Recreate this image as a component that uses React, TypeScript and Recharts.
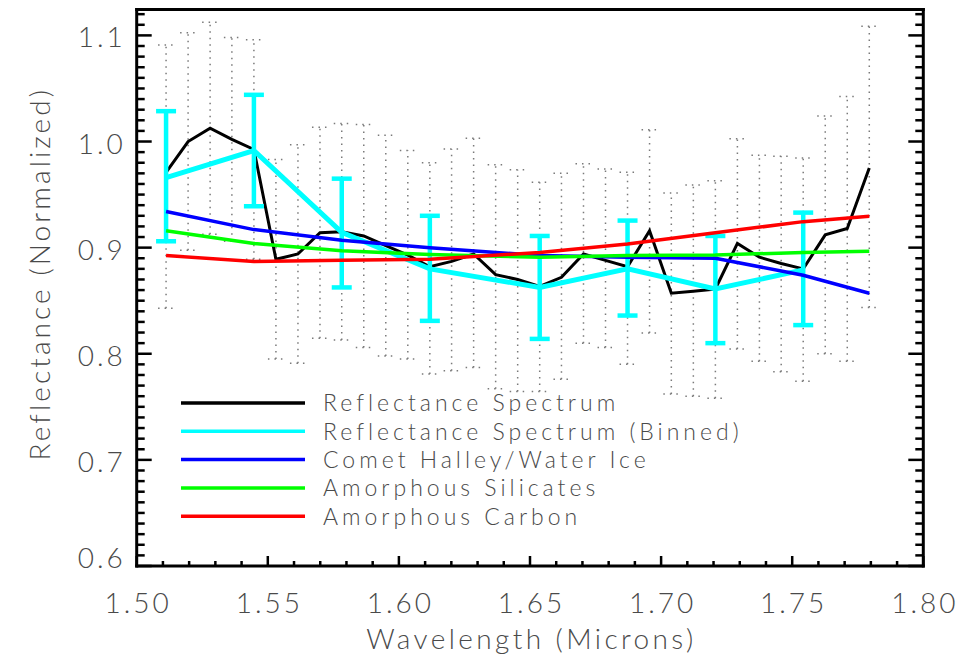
import React from 'react';
import { LineChart, Line, XAxis, YAxis, ErrorBar, Legend, Label } from 'recharts';

// wavelength grid of the full-resolution spectrum (microns)
const WAVELENGTHS = [
  1.5112, 1.5196, 1.528, 1.5363, 1.5447, 1.5531, 1.5615, 1.5699, 1.5782, 1.5866, 1.595,
  1.6034, 1.6118, 1.6201, 1.6285, 1.6369, 1.6453, 1.6537, 1.662, 1.6704, 1.6788, 1.6872,
  1.6956, 1.7039, 1.7123, 1.7207, 1.7291, 1.7375, 1.7458, 1.7542, 1.7626, 1.771, 1.7794,
];
const SPECTRUM = [
  0.971, 1.0, 1.0125, 1.002, 0.9925, 0.889, 0.894, 0.914, 0.915, 0.911, 0.902,
  0.893, 0.882, 0.887, 0.894, 0.8745, 0.87, 0.8635, 0.872, 0.894, 0.888, 0.882,
  0.916, 0.857, 0.859, 0.861, 0.904, 0.891, 0.885, 0.88, 0.912, 0.918, 0.975,
];
const SPECTRUM_HIGH = [
  1.091, 1.1025, 1.1125, 1.098, 1.096, 0.983, 0.997, 1.0135, 1.017, 1.016, 1.006,
  0.9915, 0.98, 0.993, 1.003, 0.978, 0.9735, 0.9615, 0.97, 0.979, 0.974, 0.971,
  1.011, 0.9515, 0.959, 0.963, 1.0025, 0.987, 0.986, 0.9845, 1.024, 1.0425, 1.1085,
];
const SPECTRUM_LOW = [
  0.843, 0.8975, 0.9125, 0.906, 0.889, 0.795, 0.791, 0.8145, 0.813, 0.806, 0.798,
  0.795, 0.781, 0.784, 0.787, 0.767, 0.7645, 0.7645, 0.776, 0.81, 0.806, 0.79,
  0.8195, 0.762, 0.76, 0.758, 0.8045, 0.793, 0.783, 0.774, 0.8, 0.793, 0.8437,
];

// binned spectrum (indices into WAVELENGTHS)
const BIN_INDEX = [0, 4, 8, 12, 17, 21, 25, 29];
const BINNED = [0.966, 0.9915, 0.9145, 0.88, 0.8625, 0.88, 0.861, 0.879];
const BINNED_HIGH = [1.0286, 1.044, 0.965, 0.93, 0.911, 0.9255, 0.911, 0.933];
const BINNED_LOW = [0.906, 0.939, 0.8625, 0.831, 0.814, 0.836, 0.81, 0.827];

// model fits
const MODEL_INDEX = [0, 4, 8, 12, 17, 21, 25, 29, 32];
const HALLEY = [0.934, 0.917, 0.907, 0.9, 0.8925, 0.891, 0.89, 0.874, 0.857];
const SILICATES = [0.916, 0.904, 0.897, 0.8935, 0.891, 0.8925, 0.893, 0.8955, 0.8965];
const CARBON = [0.8925, 0.887, 0.888, 0.889, 0.8955, 0.9035, 0.914, 0.9245, 0.9295];

const SERIES_NAMES = [
  'Reflectance Spectrum',
  'Reflectance Spectrum (Binned)',
  'Comet Halley/Water Ice',
  'Amorphous Silicates',
  'Amorphous Carbon',
];

const X_LABELS = ['1.50', '1.55', '1.60', '1.65', '1.70', '1.75', '1.80'];
const Y_LABELS = ['0.6', '0.7', '0.8', '0.9', '1.0', '1.1'];
const X_TITLE = 'Wavelength (Microns)';
const Y_TITLE = 'Reflectance (Normalized)';

// minor ticks every 0.01
const X_TICKS = Array.from({ length: 31 }, (_, i) => Math.round(150 + i) / 100);
const Y_TICKS = Array.from({ length: 53 }, (_, i) => Math.round(60 + i) / 100);

const spectrumRows = WAVELENGTHS.map((w, i) => ({
  w,
  v: SPECTRUM[i],
  err: [SPECTRUM[i] - SPECTRUM_LOW[i], SPECTRUM_HIGH[i] - SPECTRUM[i]],
}));
const binnedRows = BIN_INDEX.map((k, i) => ({
  w: WAVELENGTHS[k],
  v: BINNED[i],
  err: [BINNED[i] - BINNED_LOW[i], BINNED_HIGH[i] - BINNED[i]],
}));
const modelRows = (vals: number[]) => MODEL_INDEX.map((k, i) => ({ w: WAVELENGTHS[k], v: vals[i] }));

const FONT = 'Lato, "Open Sans", sans-serif';
const TXT = '#4a4a4a';

const findLabel = (labels: string[], v: number) => labels.find((l) => Math.abs(parseFloat(l) - v) < 1e-6);

const BottomTick = ({ x, y, payload }: any) => {
  const label = findLabel(X_LABELS, payload.value);
  return (
    <g>
      <line x1={x} y1={y} x2={x} y2={y - (label ? 10 : 5)} stroke="#000" strokeWidth={2.5} />
      {label && (
        <text x={x + 1.5} y={y + 47} textAnchor="middle" fontFamily={FONT} fontWeight={300} fontSize={28} letterSpacing={3} fill={TXT}>
          {label}
        </text>
      )}
    </g>
  );
};

const TopTick = ({ x, y, payload }: any) => {
  const label = findLabel(X_LABELS, payload.value);
  return <line x1={x} y1={y} x2={x} y2={y + (label ? 10 : 5)} stroke="#000" strokeWidth={2.5} />;
};

const LeftTick = ({ x, y, payload, index }: any) => {
  const label = findLabel(Y_LABELS, payload.value);
  return (
    <g>
      <line x1={x} y1={y} x2={x + (label ? 15 : 8)} y2={y} stroke="#000" strokeWidth={2.5} />
      {label && (
        <text x={x - 11} y={y + (index === 0 ? 2 : 12)} textAnchor="end" fontFamily={FONT} fontWeight={300} fontSize={28} letterSpacing={3} fill={TXT}>
          {label}
        </text>
      )}
    </g>
  );
};

const RightTick = ({ x, y, payload }: any) => {
  const label = findLabel(Y_LABELS, payload.value);
  return <line x1={x} y1={y} x2={x - (label ? 15 : 8)} y2={y} stroke="#000" strokeWidth={2.5} />;
};

const LegendBox = ({ payload }: any) => {
  const items = [...(payload || [])].sort(
    (a: any, b: any) => SERIES_NAMES.indexOf(a.value) - SERIES_NAMES.indexOf(b.value),
  );
  return (
    <svg width={560} height={145}>
      {items.map((item: any, i: number) => (
        <g key={item.value}>
          <line x1={0} x2={124} y1={13 + i * 28.3} y2={13 + i * 28.3} stroke={item.color} strokeWidth={3.5} />
          <text x={142} y={21.3 + i * 28.3} fontFamily={FONT} fontWeight={300} fontSize={23} letterSpacing={4} fill={TXT}>
            {item.value}
          </text>
        </g>
      ))}
    </svg>
  );
};

const axisLine = { stroke: '#000', strokeWidth: 3, strokeLinecap: 'square' as const };

export default function App() {
  return (
    <div style={{ position: 'absolute', left: 0, top: 0, background: '#fff' }}>
      <LineChart width={957} height={662} margin={{ top: 0, right: 0, bottom: 0, left: 0 }}>
        <XAxis
          dataKey="w"
          type="number"
          domain={[1.5, 1.8]}
          allowDataOverflow
          ticks={X_TICKS}
          interval={0}
          height={96}
          tickSize={0}
          tickMargin={0}
          tickLine={false}
          axisLine={axisLine}
          tick={(p: any) => <BottomTick {...p} />}
        >
          <Label
            content={(p: any) => (
              <text
                x={p.viewBox.x + p.viewBox.width / 2 + 1.5}
                y={p.viewBox.y + 83}
                textAnchor="middle"
                fontFamily={FONT}
                fontWeight={300}
                fontSize={28}
                letterSpacing={3.4}
                fill={TXT}
              >
                {X_TITLE}
              </text>
            )}
          />
        </XAxis>
        <XAxis
          xAxisId="top"
          orientation="top"
          type="number"
          domain={[1.5, 1.8]}
          allowDataOverflow
          ticks={X_TICKS}
          interval={0}
          height={9.5}
          tickSize={0}
          tickMargin={0}
          tickLine={false}
          axisLine={axisLine}
          tick={(p: any) => <TopTick {...p} />}
        />
        <YAxis
          type="number"
          domain={[0.6, 1.1244]}
          allowDataOverflow
          ticks={Y_TICKS}
          interval={0}
          width={136.7}
          tickSize={0}
          tickMargin={0}
          tickLine={false}
          axisLine={axisLine}
          tick={(p: any) => <LeftTick {...p} />}
        >
          <Label
            content={(p: any) => {
              const cx = p.viewBox.x + 50;
              const cy = p.viewBox.y + p.viewBox.height / 2 - 14;
              return (
                <text
                  x={cx}
                  y={cy}
                  transform={`rotate(-90, ${cx}, ${cy})`}
                  textAnchor="middle"
                  fontFamily={FONT}
                  fontWeight={300}
                  fontSize={28}
                  letterSpacing={3.1}
                  fill={TXT}
                >
                  {Y_TITLE}
                </text>
              );
            }}
          />
        </YAxis>
        <YAxis
          yAxisId="right"
          orientation="right"
          type="number"
          domain={[0.6, 1.1244]}
          allowDataOverflow
          ticks={Y_TICKS}
          interval={0}
          width={33.7}
          tickSize={0}
          tickMargin={0}
          tickLine={false}
          axisLine={axisLine}
          tick={(p: any) => <RightTick {...p} />}
        />

        <Line
          data={spectrumRows}
          dataKey="v"
          name={SERIES_NAMES[0]}
          stroke="#000000"
          strokeWidth={3}
          dot={false}
          activeDot={false}
          strokeLinejoin="miter"
          isAnimationActive={false}
        >
          <ErrorBar dataKey="err" direction="y" width={8} stroke="#7a7a7a" strokeWidth={1.5} strokeDasharray="1.5 5" isAnimationActive={false} />
        </Line>
        <Line
          data={binnedRows}
          dataKey="v"
          name={SERIES_NAMES[1]}
          stroke="#00ffff"
          strokeWidth={5}
          dot={false}
          activeDot={false}
          isAnimationActive={false}
        >
          <ErrorBar dataKey="err" direction="y" width={10} stroke="#00ffff" strokeWidth={4.5} isAnimationActive={false} />
        </Line>
        <Line data={modelRows(HALLEY)} dataKey="v" name={SERIES_NAMES[2]} stroke="#0000ff" strokeWidth={3.5} dot={false} activeDot={false} isAnimationActive={false} />
        <Line data={modelRows(SILICATES)} dataKey="v" name={SERIES_NAMES[3]} stroke="#00ff00" strokeWidth={3.5} dot={false} activeDot={false} isAnimationActive={false} />
        <Line data={modelRows(CARBON)} dataKey="v" name={SERIES_NAMES[4]} stroke="#ff0000" strokeWidth={3.5} dot={false} activeDot={false} isAnimationActive={false} />

        <Legend
          layout="vertical"
          align="center"
          verticalAlign="middle"
          content={(p: any) => <LegendBox {...p} />}
          wrapperStyle={{ left: 181, top: 390.3, width: 560, height: 145 }}
        />
      </LineChart>
    </div>
  );
}
